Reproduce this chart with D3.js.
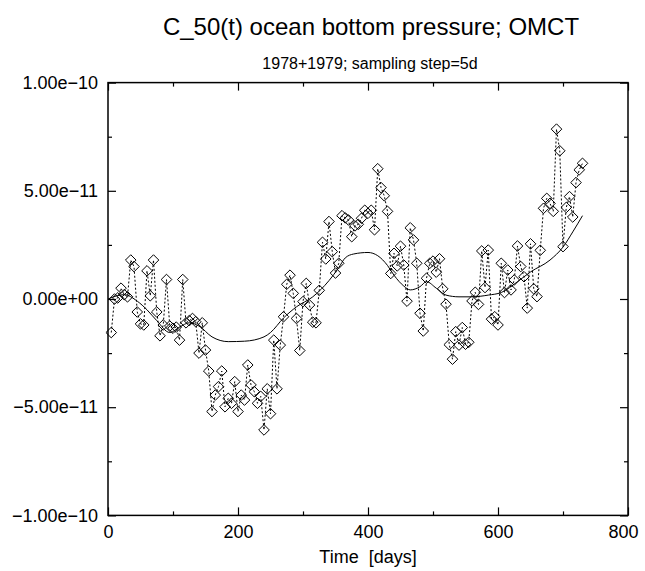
<!DOCTYPE html>
<html>
<head>
<meta charset="utf-8">
<script src="https://cdn.jsdelivr.net/npm/d3@7"></script>
<style>
  body { margin: 0; background: #fff; }
  text { font-family: "Liberation Sans", Arial, Helvetica, sans-serif; fill: #000; }
</style>
</head>
<body>
<svg id="chart" width="645" height="571"></svg>
<script>
// values in units of 1e-11, one sample every 5 days
const sampleStep = 5;
const obpValues = [
  -1.55, 0.0, 0.05, 0.5, 0.2, 0.1, 1.8, 1.5, -0.6, -1.15,
  -1.2, 1.3, 0.15, 1.8, -0.6, -1.7, -1.2, 0.9, -1.25, -1.35,
  -1.3, -1.9, 0.9, -1.1, -1.0, -0.9, -1.05, -2.5, -1.1, -2.36,
  -3.33, -5.2, -4.44, -4.05, -3.33, -4.98, -4.59, -4.82, -3.82, -5.2,
  -4.44, -4.67, -3.05, -3.97, -4.28, -4.82, -4.5, -6.05, -4.15, -5.3,
  -1.9, -4.15, -2.13, -0.82, 0.68, 1.1, 0.26, -0.9, -2.38, -0.12,
  0.72, -0.28, -1.07, -1.1, 0.4, 2.62, 1.85, 3.58, 2.19, 1.2,
  1.65, 3.85, 3.75, 3.65, 2.88, 3.38, 3.45, 3.73, 4.1, 3.96,
  4.1, 3.2, 6.02, 5.15, 4.77, 4.05, 1.18, 2.11, 1.53, 2.44,
  1.57, -0.1, 3.29, 2.73, 1.65, -0.66, -1.48, 0.96, 1.65, 1.75,
  1.24, 1.86, 0.47, -0.24, -2.11, -2.78, -1.51, -2.13, -1.32, -2.09,
  -2.0, -0.09, 0.31, -0.25, 2.22, 0.53, 2.26, -0.93, -0.82, -1.2,
  1.65, 0.3, 1.34, 0.42, 0.88, 2.45, 1.5, 1.03, -0.42, 2.55,
  0.47, 0.11, 2.25, 4.19, 4.65, 4.42, 4.05, 7.85, 6.85, 2.42,
  4.23, 4.73, 3.79, 5.38, 5.97, 6.27
];

// smoothed curve
const smoothDays = [0, 25, 45, 60, 75, 95, 110, 125, 140, 160, 185, 210, 240, 250, 270, 290, 315, 340, 355, 365, 378, 400, 415, 430, 440, 455, 465, 480, 490, 505, 520, 540, 560, 585, 605, 630, 650, 680, 700, 715, 730];
const smoothValues = [0.0, 0.2, -0.1, -0.5, -1.0, -1.55, -1.3, -1.1, -1.25, -1.75, -1.97, -1.95, -1.75, -1.55, -0.88, -0.36, 0.1, 0.85, 1.45, 1.9, 2.08, 2.15, 2.0, 1.55, 1.1, 0.6, 0.42, 0.57, 0.8, 0.5, 0.18, 0.1, 0.1, 0.18, 0.3, 0.8, 1.25, 1.8, 2.4, 3.1, 3.85];

const xMajorTicks = [0, 200, 400, 600, 800];
const xMinorTicks = [100, 300, 500, 700];
const yMajorTicks = [-10, -5, 0, 5, 10];
const yMinorTicks = [-7.5, -2.5, 2.5, 7.5];
const yTickLabels = ["\u22121.00e\u221210", "\u22125.00e\u221211", "0.00e+00", "5.00e\u221211", "1.00e\u221210"];

const titleText = "C_50(t) ocean bottom pressure; OMCT";
const subtitleText = "1978+1979; sampling step=5d";
const xLabelText = "Time  [days]";

const svg = d3.select("#chart");
const width = +svg.attr("width");
const height = +svg.attr("height");
const m = { top: 82.6, right: 17, bottom: 55.6, left: 108 };

const x = d3.scaleLinear()
  .domain([0, 800])
  .range([m.left, width - m.right]);

const y = d3.scaleLinear()
  .domain([-10, 10])
  .range([height - m.bottom, m.top]);

const points = obpValues.map((v, i) => ({ day: (i + 1) * sampleStep, value: v }));
const smooth = smoothDays.map((d, i) => ({ day: d, value: smoothValues[i] }));

// axes, ticks pointing inwards on all four sides
const bottom = height - m.bottom;
const right = width - m.right;

svg.append("g")
  .attr("transform", `translate(0,${bottom})`)
  .call(d3.axisBottom(x).tickValues(xMajorTicks).tickSize(-8).tickPadding(10).tickFormat(d3.format("d")))
  .call(g => g.select(".domain").remove())
  .call(g => g.selectAll("text").attr("font-size", "18px").attr("font-family", null))
  .call(g => g.selectAll(".tick").filter(d => d === 800).select("text").attr("dx", "-5"));

svg.append("g")
  .attr("transform", `translate(0,${bottom})`)
  .call(d3.axisBottom(x).tickValues(xMinorTicks).tickSize(-4).tickFormat(""))
  .call(g => g.select(".domain").remove());

svg.append("g")
  .attr("transform", `translate(0,${m.top})`)
  .call(d3.axisTop(x).tickValues(xMajorTicks).tickSize(-8).tickFormat(""))
  .call(g => g.select(".domain").remove());

svg.append("g")
  .attr("transform", `translate(0,${m.top})`)
  .call(d3.axisTop(x).tickValues(xMinorTicks).tickSize(-4).tickFormat(""))
  .call(g => g.select(".domain").remove());

svg.append("g")
  .attr("transform", `translate(${m.left},0)`)
  .call(d3.axisLeft(y).tickValues(yMajorTicks).tickSize(-8).tickPadding(10)
    .tickFormat((d, i) => yTickLabels[i]))
  .call(g => g.select(".domain").remove())
  .call(g => g.selectAll("text").attr("font-size", "18px").attr("font-family", null));

svg.append("g")
  .attr("transform", `translate(${m.left},0)`)
  .call(d3.axisLeft(y).tickValues(yMinorTicks).tickSize(-4).tickFormat(""))
  .call(g => g.select(".domain").remove());

svg.append("g")
  .attr("transform", `translate(${right},0)`)
  .call(d3.axisRight(y).tickValues(yMajorTicks).tickSize(-8).tickFormat(""))
  .call(g => g.select(".domain").remove());

svg.append("g")
  .attr("transform", `translate(${right},0)`)
  .call(d3.axisRight(y).tickValues(yMinorTicks).tickSize(-4).tickFormat(""))
  .call(g => g.select(".domain").remove());

svg.selectAll(".tick line").attr("stroke", "#000").attr("stroke-width", 1.2);

// frame
svg.append("rect")
  .attr("x", m.left)
  .attr("y", m.top)
  .attr("width", right - m.left)
  .attr("height", bottom - m.top)
  .attr("fill", "none")
  .attr("stroke", "#000")
  .attr("stroke-width", 1.5);

// dotted line through the samples
const dotLine = d3.line()
  .x(d => x(d.day))
  .y(d => y(d.value));

svg.append("path")
  .datum(points)
  .attr("fill", "none")
  .attr("stroke", "#000")
  .attr("stroke-width", 1)
  .attr("stroke-dasharray", "2,2")
  .attr("d", dotLine);

// smooth solid curve
const smoothLine = d3.line()
  .x(d => x(d.day))
  .y(d => y(d.value))
  .curve(d3.curveMonotoneX);

svg.append("path")
  .datum(smooth)
  .attr("fill", "none")
  .attr("stroke", "#000")
  .attr("stroke-width", 1)
  .attr("d", smoothLine);

// diamonds
const r = 5.3;
svg.append("g")
  .selectAll("path")
  .data(points)
  .enter().append("path")
    .attr("transform", d => `translate(${x(d.day)},${y(d.value)})`)
    .attr("d", `M0,${-r}L${r},0L0,${r}L${-r},0Z`)
    .attr("fill", "none")
    .attr("stroke", "#000")
    .attr("stroke-width", 1);

// titles
svg.append("text")
  .attr("x", (m.left + right) / 2 + 3)
  .attr("y", 35)
  .attr("text-anchor", "middle")
  .attr("font-size", "24px")
  .text(titleText);

svg.append("text")
  .attr("x", (m.left + right) / 2 + 2)
  .attr("y", 69)
  .attr("text-anchor", "middle")
  .attr("font-size", "16px")
  .text(subtitleText);

svg.append("text")
  .attr("x", (m.left + right) / 2)
  .attr("y", 563)
  .attr("text-anchor", "middle")
  .attr("font-size", "18px")
  .style("white-space", "pre")
  .text(xLabelText);
</script>
</body>
</html>
